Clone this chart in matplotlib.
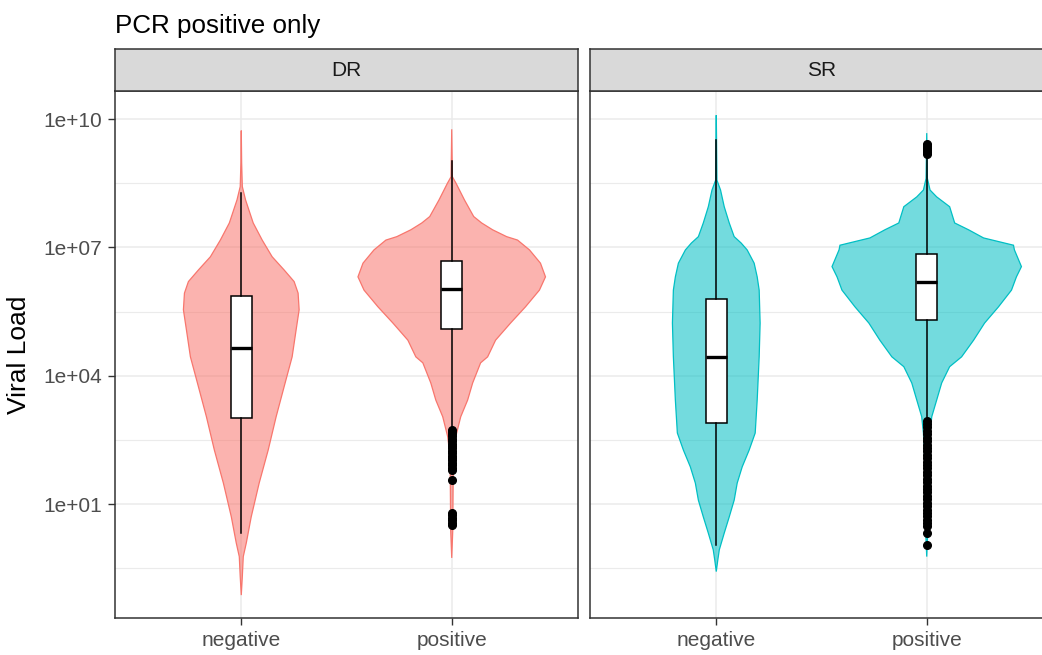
import numpy as np
import matplotlib
matplotlib.use("Agg")
import matplotlib.pyplot as plt
from matplotlib.ticker import FixedLocator, NullFormatter
from matplotlib.colors import to_rgba

plt.rcParams['font.family'] = ['Liberation Sans', 'DejaVu Sans']

# ---------------- data (log10 of viral load) ----------------
title = "PCR positive only"
facets = ["DR", "SR"]
categories = ["negative", "positive"]
facet_colors = {"DR": "#F8766D", "SR": "#00BFC4"}
y_tick_values = [1e1, 1e4, 1e7, 1e10]
y_tick_labels = ["1e+01", "1e+04", "1e+07", "1e+10"]
y_minor_values = [10 ** -0.5, 10 ** 2.5, 10 ** 5.5, 10 ** 8.5]
y_label = "Viral Load"

# violin profiles: log10 level and relative half-width (1 = widest violin)
dr_neg_level = [9.73, 8.97, 8.42, 8.11, 7.57, 7.17, 6.78, 6.47, 6.20, 5.93, 5.54, 5.07,
                4.44, 3.83, 3.04, 2.26, 1.49, 0.70, 0.09, -0.23, -0.70, -1.13]
dr_neg_width = [0.0, 0.004, 0.011, 0.045, 0.126, 0.221, 0.326, 0.453, 0.558, 0.600, 0.611,
                0.579, 0.537, 0.463, 0.368, 0.284, 0.189, 0.105, 0.053, 0.021, 0.011, 0.0]

dr_pos_level = [9.76, 8.65, 8.50, 8.11, 7.72, 7.57, 7.41, 7.25, 7.17, 6.94, 6.63, 6.31,
                6.00, 5.61, 5.23, 4.83, 4.44, 4.30, 3.83, 3.43, 3.04, 2.57, 2.26, 1.80,
                0.39, -0.26]
dr_pos_width = [0.0, 0.007, 0.045, 0.134, 0.232, 0.316, 0.432, 0.580, 0.695, 0.821, 0.937,
                0.990, 0.926, 0.779, 0.621, 0.463, 0.379, 0.305, 0.221, 0.168, 0.095,
                0.042, 0.026, 0.016, 0.011, 0.0]

sr_neg_level = [10.09, 9.51, 8.57, 8.34, 7.95, 7.57, 7.25, 7.10, 6.94, 6.63, 6.31, 6.00,
                5.23, 4.44, 3.43, 2.66, 2.26, 1.87, 1.49, 1.09, 0.70, 0.32, -0.07, -0.31,
                -0.58]
sr_neg_width = [0.0, 0.003, 0.007, 0.045, 0.084, 0.137, 0.189, 0.263, 0.326, 0.400, 0.432,
                0.453, 0.463, 0.453, 0.432, 0.411, 0.347, 0.274, 0.221, 0.189, 0.137,
                0.084, 0.032, 0.016, 0.0]

sr_pos_level = [9.67, 8.61, 8.34, 8.18, 7.95, 7.57, 7.41, 7.22, 7.05, 6.94, 6.55, 6.31,
                6.00, 5.61, 5.23, 4.83, 4.44, 4.21, 3.83, 3.43, 3.04, 2.66, 2.03, 0.63, -0.23]
sr_pos_width = [0.0, 0.007, 0.035, 0.105, 0.242, 0.295, 0.442, 0.600, 0.916, 0.926, 1.0,
                0.947, 0.895, 0.758, 0.611, 0.495, 0.368, 0.242, 0.158, 0.105, 0.053,
                0.035, 0.021, 0.016, 0.0]

# boxplot statistics (log10): whisker low, q1, median, q3, whisker high
dr_neg_box = [0.33, 3.01, 4.64, 5.87, 8.28]
dr_pos_box = [2.81, 5.09, 6.02, 6.69, 9.03]
sr_neg_box = [0.05, 2.89, 4.43, 5.79, 9.51]
sr_pos_box = [3.04, 5.30, 6.18, 6.85, 9.10]

dr_neg_outliers = []
dr_pos_outliers = [2.72, 2.68, 2.63, 2.58, 2.52, 2.47, 2.41, 2.36, 2.30, 2.25, 2.19, 2.13,
                   2.08, 2.02, 1.96, 1.91, 1.85, 1.79, 1.55, 0.79, 0.74, 0.68, 0.62,
                   0.56, 0.50]
sr_neg_outliers = []
sr_pos_outliers = [9.42, 9.37, 9.32, 9.27, 9.22, 9.18,
                   2.95, 2.87, 2.79, 2.71, 2.63, 2.55, 2.47, 2.39, 2.31, 2.23, 2.15,
                   2.07, 1.99, 1.91, 1.83, 1.75, 1.67, 1.59, 1.51, 1.43, 1.35, 1.27,
                   1.19, 1.11, 1.03, 0.95, 0.87, 0.79, 0.71, 0.63, 0.55, 0.49, 0.32, 0.03]

violins = {
    "DR": [(dr_neg_level, dr_neg_width), (dr_pos_level, dr_pos_width)],
    "SR": [(sr_neg_level, sr_neg_width), (sr_pos_level, sr_pos_width)],
}
boxes = {
    "DR": [(dr_neg_box, dr_neg_outliers), (dr_pos_box, dr_pos_outliers)],
    "SR": [(sr_neg_box, sr_neg_outliers), (sr_pos_box, sr_pos_outliers)],
}

# ---------------- figure ----------------
W, H = 1042, 655
fig = plt.figure(figsize=(W / 100, H / 100), dpi=100)
fig.patch.set_facecolor("white")

panel_lefts = [115, 590]
panel_w = 463
panel_top, panel_bot = 91, 618
strip_top = 49

ylim = (10 ** -1.665, 10 ** 10.655)
grey20 = "#333333"

for i, facet in enumerate(facets):
    left = panel_lefts[i]
    ax = fig.add_axes([left / W, (H - panel_bot) / H, panel_w / W,
                       (panel_bot - panel_top) / H])
    ax.set_yscale("log")
    ax.set_xlim(0.4, 2.6)
    ax.set_ylim(*ylim)
    ax.set_facecolor("white")

    # grid
    ax.yaxis.set_major_locator(FixedLocator(y_tick_values))
    ax.yaxis.set_minor_locator(FixedLocator(y_minor_values))
    ax.yaxis.set_minor_formatter(NullFormatter())
    ax.set_yticklabels(y_tick_labels)
    ax.set_xticks([1, 2])
    ax.set_xticklabels(categories)
    ax.grid(True, which="major", color="#EBEBEB", lw=1.1, zorder=0)
    ax.grid(True, which="minor", axis="y", color="#EBEBEB", lw=0.8, zorder=0)
    ax.set_axisbelow(True)

    ax.tick_params(which="minor", length=0)
    ax.tick_params(which="major", length=5, width=1.0, color=grey20,
                   labelsize=15, labelcolor="#4D4D4D", pad=4)
    if i > 0:
        ax.tick_params(axis="y", which="both", left=False, labelleft=False)
    for sp in ax.spines.values():
        sp.set_color(grey20)
        sp.set_linewidth(1.1)
        sp.set_zorder(10)

    col = facet_colors[facet]
    # violins
    for pos, (lev, wid) in enumerate(violins[facet], start=1):
        lev = np.asarray(lev)
        wid = np.asarray(wid) * 0.45
        xs = np.concatenate([pos - wid, (pos + wid)[::-1]])
        ys = np.concatenate([10 ** lev, (10 ** lev)[::-1]])
        ax.fill(xs, ys, facecolor=to_rgba(col, 0.55), edgecolor=col, lw=0.9, zorder=2)

    # boxplots
    stats = []
    for (b, outl) in boxes[facet]:
        stats.append(dict(whislo=10 ** b[0], q1=10 ** b[1], med=10 ** b[2],
                          q3=10 ** b[3], whishi=10 ** b[4],
                          fliers=[10 ** v for v in outl]))
    ax.bxp(stats, positions=[1, 2], widths=0.1, showcaps=False, patch_artist=True,
           boxprops=dict(facecolor="white", edgecolor="black", lw=1.1),
           medianprops=dict(color="black", lw=2.4),
           whiskerprops=dict(color="black", lw=1.1),
           flierprops=dict(marker="o", markerfacecolor="black",
                           markeredgecolor="black", markersize=5.5),
           manage_ticks=False, zorder=3)
    ax.set_xticks([1, 2])
    ax.set_xticklabels(categories)

    # strip
    sax = fig.add_axes([left / W, (H - panel_top) / H, panel_w / W,
                        (panel_top - strip_top) / H])
    sax.set_facecolor("#D9D9D9")
    sax.set_xticks([])
    sax.set_yticks([])
    for sp in sax.spines.values():
        sp.set_color(grey20)
        sp.set_linewidth(1.1)
    sax.text(0.5, 0.5, facet, ha="center", va="center", fontsize=15,
             color="#1A1A1A", transform=sax.transAxes)

fig.text(115 / W, (H - 33.3) / H, title, ha="left", va="baseline", fontsize=18.7,
         color="black")
fig.text(19 / W, (H - 354.5) / H, y_label, ha="center", va="center", rotation=90,
         fontsize=19, color="black")

fig.savefig("out.png", dpi=100)
